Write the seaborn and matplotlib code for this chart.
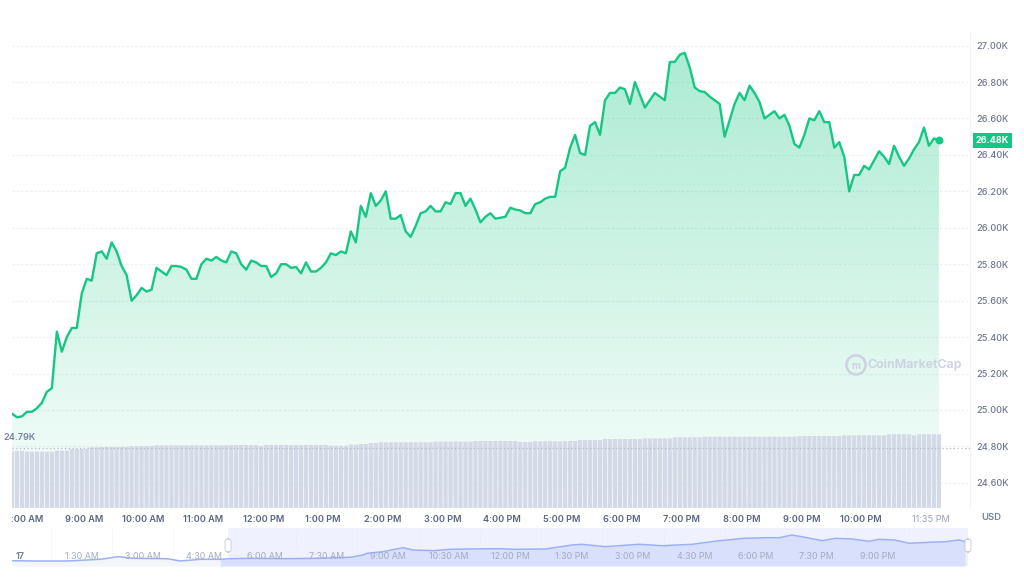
import numpy as np
import pandas as pd
import matplotlib
matplotlib.use("Agg")
import matplotlib.pyplot as plt
import seaborn as sns
from matplotlib.patches import Polygon, FancyBboxPatch
from matplotlib.transforms import Bbox, TransformedBbox, blended_transform_factory

# ---------------- data ----------------
start_hour = 7.8          # first sample (hours after midnight)
step_minutes = 5          # sampling interval

price_k = [
    24.98, 24.96, 24.965, 24.99, 24.99, 25.01, 25.04, 25.10, 25.12, 25.43,
    25.32, 25.40, 25.45, 25.45, 25.64, 25.72, 25.71, 25.86, 25.87, 25.83,
    25.92, 25.87, 25.79, 25.74, 25.60, 25.63, 25.67, 25.65, 25.66, 25.78,
    25.76, 25.74, 25.79, 25.79, 25.785, 25.77, 25.72, 25.72, 25.80, 25.83,
    25.82, 25.84, 25.82, 25.81, 25.87, 25.86, 25.80, 25.77, 25.82, 25.81,
    25.79, 25.79, 25.73, 25.75, 25.80, 25.80, 25.78, 25.785, 25.75, 25.81,
    25.76, 25.76, 25.78, 25.81, 25.86, 25.85, 25.87, 25.86, 25.98, 25.92,
    26.12, 26.06, 26.19, 26.12, 26.15, 26.20, 26.05, 26.05, 26.07, 25.98,
    25.95, 26.01, 26.08, 26.09, 26.12, 26.09, 26.09, 26.14, 26.13, 26.19,
    26.19, 26.12, 26.16, 26.10, 26.03, 26.06, 26.08, 26.05, 26.055, 26.06,
    26.11, 26.10, 26.095, 26.08, 26.08, 26.13, 26.14, 26.16, 26.17, 26.17,
    26.31, 26.33, 26.44, 26.51, 26.41, 26.40, 26.56, 26.58, 26.51, 26.70,
    26.74, 26.74, 26.77, 26.76, 26.68, 26.80, 26.73, 26.66, 26.70, 26.74,
    26.72, 26.70, 26.91, 26.91, 26.95, 26.96, 26.88, 26.77, 26.75, 26.745,
    26.72, 26.70, 26.68, 26.50, 26.59, 26.68, 26.74, 26.70, 26.78, 26.74,
    26.69, 26.60, 26.62, 26.64, 26.60, 26.62, 26.56, 26.46, 26.44, 26.51,
    26.60, 26.59, 26.64, 26.58, 26.58, 26.44, 26.47, 26.39, 26.20, 26.29,
    26.29, 26.34, 26.32, 26.37, 26.42, 26.39, 26.35, 26.45, 26.39, 26.34,
    26.38, 26.43, 26.47, 26.55, 26.45, 26.49, 26.48,
]

volume_b = [
    14.25, 14.25, 14.25, 14.08, 14.08, 14.08, 14.08, 14.08, 14.08, 14.33,
    14.33, 14.33, 14.75, 14.75, 14.75, 14.75, 15.18, 15.18, 15.25, 15.25,
    15.25, 15.25, 15.25, 15.25, 15.50, 15.50, 15.50, 15.50, 15.50, 15.68,
    15.68, 15.68, 15.68, 15.68, 15.68, 15.68, 15.68, 15.68, 15.68, 15.68,
    15.68, 15.68, 15.68, 15.68, 15.75, 15.75, 15.75, 15.75, 15.75, 15.75,
    15.50, 15.75, 15.75, 15.75, 15.75, 15.75, 15.75, 15.75, 15.75, 15.75,
    15.75, 15.75, 15.75, 15.75, 15.58, 15.58, 15.58, 15.58, 15.83, 15.83,
    16.00, 16.00, 16.25, 16.25, 16.43, 16.43, 16.43, 16.43, 16.43, 16.43,
    16.43, 16.43, 16.43, 16.43, 16.43, 16.58, 16.58, 16.58, 16.58, 16.58,
    16.58, 16.58, 16.58, 16.75, 16.75, 16.75, 16.75, 16.75, 16.75, 16.75,
    16.75, 16.75, 16.50, 16.50, 16.50, 16.68, 16.68, 16.68, 16.68, 16.68,
    16.68, 16.68, 16.75, 16.75, 17.00, 17.00, 17.00, 17.00, 17.00, 17.25,
    17.25, 17.25, 17.25, 17.25, 17.25, 17.25, 17.25, 17.43, 17.43, 17.43,
    17.43, 17.43, 17.43, 17.68, 17.68, 17.68, 17.68, 17.68, 17.68, 17.83,
    17.83, 17.83, 17.83, 17.83, 17.83, 17.83, 17.83, 17.83, 17.83, 17.83,
    17.83, 17.83, 17.83, 17.83, 17.83, 17.83, 17.83, 17.83, 18.00, 18.00,
    18.00, 18.00, 18.00, 18.00, 18.00, 18.00, 18.00, 18.18, 18.18, 18.18,
    18.18, 18.18, 18.18, 18.18, 18.18, 18.18, 18.43, 18.43, 18.43, 18.43,
    18.43, 18.18, 18.43, 18.43, 18.43, 18.43, 18.43,
]

ref_price_k = 24.79
ref_label = "24.79K"
last_label = "26.48K"

ytick_values = [24.6, 24.8, 25.0, 25.2, 25.4, 25.6, 25.8, 26.0, 26.2, 26.4, 26.6, 26.8, 27.0]
ytick_labels = ["24.60K", "24.80K", "25.00K", "25.20K", "25.40K", "25.60K", "25.80K",
                "26.00K", "26.20K", "26.40K", "26.60K", "26.80K", "27.00K"]
xtick_hours = [8, 9, 10, 11, 12, 13, 14, 15, 16, 17, 18, 19, 20, 21, 22, 23.17]
xtick_labels = ["8:00 AM", "9:00 AM", "10:00 AM", "11:00 AM", "12:00 PM", "1:00 PM",
                "2:00 PM", "3:00 PM", "4:00 PM", "5:00 PM", "6:00 PM", "7:00 PM",
                "8:00 PM", "9:00 PM", "10:00 PM", "11:35 PM"]

# navigator (overview) series
nav_hours = [-0.2, 0.32, 1.15, 1.96, 2.40, 2.77, 3.60, 3.92, 4.41, 4.89, 5.14, 5.63,
             6.44, 7.27, 8.08, 8.39, 8.49, 8.88, 9.37, 9.62, 10.11, 10.52, 10.94,
             11.75, 12.04, 12.85, 13.51, 13.75, 14.32, 15.15, 15.71, 16.45, 17.11,
             17.74, 18.23, 18.58, 18.89, 19.21, 19.63, 19.95, 20.36, 20.78, 21.02,
             21.41, 21.76, 22.25, 22.64, 22.98, 23.13]
nav_price_k = [24.53, 24.50, 24.50, 24.67, 24.93, 24.77, 24.73, 24.50, 24.67, 24.67,
               24.73, 24.77, 24.73, 24.77, 24.87, 25.10, 25.27, 25.43, 25.83, 25.60,
               25.53, 25.67, 25.70, 25.73, 25.67, 25.70, 26.10, 26.17, 25.93, 26.17,
               26.03, 26.17, 26.53, 26.77, 26.83, 26.83, 27.10, 26.87, 26.53, 26.77,
               26.70, 26.47, 26.67, 26.60, 26.27, 26.37, 26.43, 26.60, 26.43]
nav_label_hours = [0, 1.5, 3, 4.5, 6, 7.5, 9, 10.5, 12, 13.5, 15, 16.5, 18, 19.5, 21]
nav_labels = ["17", "1:30 AM", "3:00 AM", "4:30 AM", "6:00 AM", "7:30 AM", "9:00 AM",
              "10:30 AM", "12:00 PM", "1:30 PM", "3:00 PM", "4:30 PM", "6:00 PM",
              "7:30 PM", "9:00 PM"]
nav_selection = (5.09, 23.2)

# ---------------- style ----------------
sns.set_theme(style="white")
plt.rcParams["font.family"] = ["Inter", "DejaVu Sans"]

GREEN = "#16c784"
LABEL = "#58667e"

W, H = 1024, 578
fig = plt.figure(figsize=(W / 100, H / 100), dpi=100)


def fx(px):
    return px / W


def fy(py):
    return 1 - py / H


df = pd.DataFrame({"price": price_k, "volume": volume_b})
df["hour"] = start_hour + np.arange(len(df)) * step_minutes / 60.0

pos = [fx(12), fy(508), fx(970) - fx(12), fy(31) - fy(508)]
ymin, ymax = 24.462, 27.08
xmin, xmax = 7.8, 23.82

# price axes
ax = fig.add_axes(pos, zorder=1)
ax.set_xlim(xmin, xmax)
ax.set_ylim(ymin, ymax)

# gradient fill under line
verts = [(df["hour"].iloc[0], ymin)] + list(zip(df["hour"], df["price"])) + [(df["hour"].iloc[-1], ymin)]
poly = Polygon(verts, closed=True, facecolor="none", edgecolor="none")
ax.add_patch(poly)
grad = np.zeros((256, 1, 4))
rgb = matplotlib.colors.to_rgb(GREEN)
grad[:, 0, 0], grad[:, 0, 1], grad[:, 0, 2] = rgb
grad[:, 0, 3] = np.linspace(0.36, 0.03, 256)
im = ax.imshow(grad, extent=[df["hour"].iloc[0], df["hour"].iloc[-1], ymin, 27.0],
               aspect="auto", origin="upper", zorder=1, interpolation="bilinear")
im.set_clip_path(poly)
ax.set_xlim(xmin, xmax)
ax.set_ylim(ymin, ymax)

for v in ytick_values:
    ax.axhline(v, color="#edf0f5", lw=0.9, ls=(0, (2, 1.5)), zorder=0.5)

sns.lineplot(data=df, x="hour", y="price", ax=ax, color=GREEN, linewidth=1.7, zorder=3)
ax.scatter([df["hour"].iloc[-1]], [df["price"].iloc[-1]], s=22, color=GREEN, zorder=4)

ax.yaxis.tick_right()
ax.set_yticks(ytick_values)
ax.set_yticklabels(ytick_labels)
ax.set_xticks(xtick_hours)
ax.set_xticklabels(xtick_labels)
ax.tick_params(axis="y", length=0, pad=4.5, labelsize=6.6, labelcolor="#6f7890")
ax.tick_params(axis="x", length=0, pad=5, labelsize=6.6, labelcolor=LABEL)
for lbl in ax.get_xticklabels():
    lbl.set_fontweight("semibold")
    if lbl.get_text() == "11:35 PM":
        lbl.set_fontweight("normal")
        lbl.set_color("#9aa2b5")
    if lbl.get_text() == "8:00 AM":
        lbl.set_clip_on(True)
        lbl.set_clip_box(TransformedBbox(Bbox([[fx(12), 0], [1, 1]]), fig.transFigure))
for lbl in ax.get_yticklabels():
    lbl.set_fontweight("medium")
ax.set_xlabel("")
ax.set_ylabel("")
for s in ["top", "left", "bottom"]:
    ax.spines[s].set_visible(False)
ax.spines["right"].set_color("#f1f3f7")
ax.spines["right"].set_linewidth(0.8)

# price badge
btr = blended_transform_factory(ax.transAxes, ax.transData)
ax.text(1.006, df["price"].iloc[-1], last_label, transform=btr, ha="left", va="center",
        fontsize=6.6, color="white", fontweight="bold", zorder=6, clip_on=False,
        bbox=dict(boxstyle="square,pad=0.32", fc=GREEN, ec="none"))

# volume axes (on top, transparent)
axv = fig.add_axes(pos, zorder=2, sharex=ax)
axv.patch.set_alpha(0)
bars = axv.bar(df["hour"], df["volume"], width=step_minutes / 60.0 * 0.84, color="#d3d9e6",
               linewidth=0, align="center")
for b in bars:
    b.set_snap(False)
axv.plot([xmin, xmax], [ref_price_k, ref_price_k], transform=ax.transData,
         color="#b3bacb", lw=0.9, ls=(0, (1, 2)))
axv.set_ylim(0, 477 / 4.0)
axv.set_xlim(xmin, xmax)
axv.axis("off")
fig.text(fx(3), fy(438), ref_label, ha="left", va="center", fontsize=6.6,
         fontweight="semibold", color="#7a839a")

# watermark
axv.text(0.942, 0.30, "CoinMarketCap", transform=axv.transAxes, ha="center", va="center",
         fontsize=9, fontweight="semibold", color="#cdd1e2")
axv.scatter([0.881], [0.30], transform=axv.transAxes, s=190, facecolor="none",
            edgecolor="#cdd1e2", linewidth=1.8)
axv.text(0.881, 0.297, "m", transform=axv.transAxes, ha="center", va="center",
         fontsize=7, fontweight="bold", color="#cdd1e2")

fig.text(fx(991), fy(517), "USD", ha="center", va="center", fontsize=6.8,
         fontweight="semibold", color="#7a839a")

# ---------------- navigator ----------------
nav = fig.add_axes([fx(12), fy(566), fx(968) - fx(12), fy(528) - fy(566)])
nav.set_xlim(-0.2, 23.2)
nav.set_ylim(24.0, 27.8)
ndf = pd.DataFrame({"hour": nav_hours, "price": nav_price_k})
nav.axvspan(nav_selection[0], nav_selection[1], color="#eff2fe", lw=0, zorder=0)
hrs = np.array(nav_hours)
prs = np.array(nav_price_k)
nav.fill_between(hrs, prs, 24.0, where=hrs >= nav_selection[0] - 0.5, color="#d9e0fb",
                 lw=0, zorder=1)
nav.fill_between(hrs, prs, 24.0, where=hrs <= nav_selection[0], color="#f3f5fb",
                 lw=0, zorder=1)
for h in nav_label_hours:
    nav.axvline(h + 0.75, color="#e4e8f0", lw=0.6, ls=(0, (1, 2)), zorder=0.5)
sns.lineplot(data=ndf, x="hour", y="price", ax=nav, color="#9db0f6", linewidth=1.1, zorder=2)
ntr = blended_transform_factory(nav.transData, nav.transAxes)
for h, t in zip(nav_label_hours, nav_labels):
    bold = t == "17"
    nav.text(h, 0.24, t, transform=ntr, ha="center", va="center", fontsize=6.4,
             color="#7a839a" if bold else "#a3abbf", fontweight="bold" if bold else "normal",
             zorder=3)
for h in nav_selection:
    x_px = 12 + (h + 0.2) / 23.4 * (968 - 12)
    nav_handle = FancyBboxPatch((fx(x_px) - 3 / W, fy(552)), 6 / W, 13 / H,
                                boxstyle="round,pad=0,rounding_size=0.004",
                                transform=fig.transFigure, fc="white", ec="#c9cfdc",
                                lw=0.7, zorder=10)
    fig.patches.append(nav_handle)
nav.set_xlabel("")
nav.set_ylabel("")
nav.set_xticks([])
nav.set_yticks([])
for s in nav.spines.values():
    s.set_visible(False)

fig.savefig("out.png", dpi=100, facecolor="white")
